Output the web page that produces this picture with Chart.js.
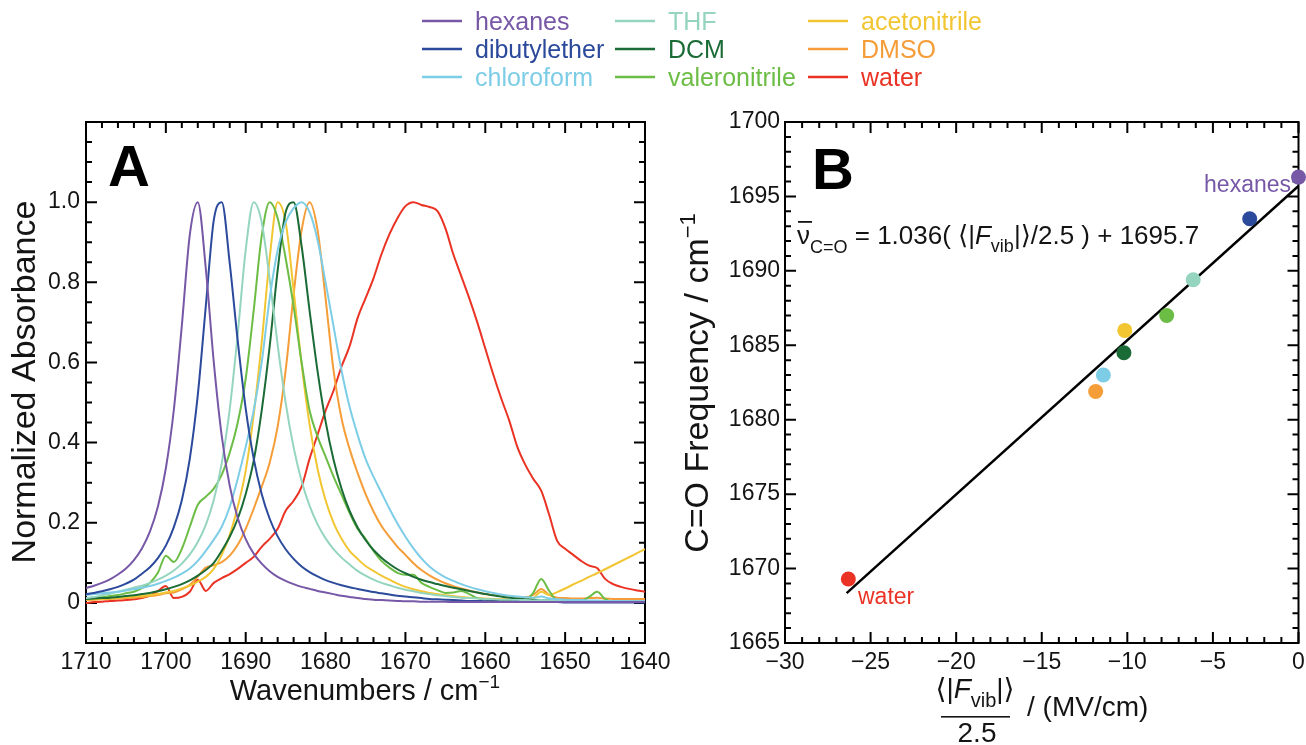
<!DOCTYPE html>
<html>
<head>
<meta charset="utf-8">
<title>C=O band vs solvent</title>
<script src="https://cdn.jsdelivr.net/npm/chart.js@4.4.1/dist/chart.umd.min.js"></script>
<style>
  html, body { margin: 0; padding: 0; background: #fff; }
  #wrap { position: relative; width: 1306px; height: 745px; overflow: hidden; }
  #wrap canvas { position: absolute; left: 0; top: 0; }
</style>
</head>
<body>
<div id="wrap">
  <canvas id="panelA" width="1306" height="745"></canvas>
  <canvas id="panelB" width="1306" height="745"></canvas>
</div>
<script>
// ---- data ----
const solvents = ['hexanes', 'dibutylether', 'chloroform', 'THF', 'DCM', 'valeronitrile', 'acetonitrile', 'DMSO', 'water'];
const colors = ['#7758a7', '#2b4a9c', '#7dcde6', '#95d5c0', '#1a6b35', '#6cbd45', '#f2c632', '#f59d38', '#ea3324'];

// panel A: normalized absorbance, wavenumber grid 1710 -> 1640
const wavenumbers = [1710, 1709, 1708, 1707, 1706, 1705, 1704, 1703, 1702, 1701,
  1700, 1699, 1698, 1697, 1696, 1695, 1694, 1693, 1692, 1691,
  1690, 1689, 1688, 1687, 1686, 1685, 1684, 1683, 1682, 1681,
  1680, 1679, 1678, 1677, 1676, 1675, 1674, 1673, 1672, 1671,
  1670, 1669, 1668, 1667, 1666, 1665, 1664, 1663, 1662, 1661,
  1660, 1659, 1658, 1657, 1656, 1655, 1654, 1653, 1652, 1651,
  1650, 1649, 1648, 1647, 1646, 1645, 1644, 1643, 1642, 1641, 1640];

const hexanes = [.037, .043, .050, .059, .071, .086, .107, .136, .178, .240,
  .336, .482, .692, .919, 1.00, .835, .601, .416, .292, .212,
  .159, .123, .098, .079, .065, .055, .047, .040, .035, .030,
  .026, .022, .018, .015, .012, .010, .008, .007, .006, .005,
  .004, .004, .003, .003, .003, .003, .002, .002, .002, .002,
  .002, .002, .002, .002, .002, .002, .002, .002, .002, .002,
  .002, .002, .002, .002, .002, .002, .002, .002, .002, .002, .002];

const dibutylether = [.022, .025, .029, .034, .040, .048, .058, .073, .089, .112,
  .143, .189, .256, .360, .519, .740, .955, 1.00, .847, .654,
  .485, .360, .272, .210, .166, .134, .110, .091, .077, .066,
  .057, .050, .044, .039, .035, .031, .027, .024, .021, .018,
  .016, .014, .012, .010, .009, .008, .007, .006, .005, .005,
  .004, .004, .003, .003, .003, .002, .002, .002, .002, .002,
  .001, .001, .001, .001, .001, .001, .001, .001, .001, .001, .001];

const chloroform = [.020, .022, .024, .026, .028, .031, .034, .038, .042, .048,
  .055, .063, .073, .086, .105, .130, .158, .190, .240, .310,
  .390, .480, .600, .760, .880, .950, .985, 1.00, .975, .905,
  .800, .690, .580, .490, .420, .360, .315, .275, .235, .198,
  .165, .136, .111, .091, .076, .064, .055, .047, .040, .034,
  .029, .025, .021, .018, .016, .014, .013, .016, .011, .009,
  .008, .007, .007, .006, .006, .005, .005, .005, .004, .004, .004];

const thf = [.012, .015, .019, .023, .028, .033, .038, .043, .050, .058,
  .068, .081, .098, .121, .152, .195, .257, .349, .484, .671,
  .881, 1.00, .950, .808, .644, .500, .388, .304, .242, .196,
  .161, .134, .113, .096, .080, .068, .058, .050, .044, .038,
  .033, .029, .025, .022, .019, .017, .015, .013, .012, .011,
  .010, .009, .008, .008, .007, .007, .006, .007, .006, .005,
  .005, .005, .004, .004, .004, .004, .004, .004, .004, .004, .004];

const dcm = [.010, .011, .012, .013, .015, .017, .019, .022, .025, .029,
  .034, .040, .047, .056, .068, .082, .100, .130, .165, .210,
  .272, .355, .480, .640, .830, .975, 1.00, .890, .729, .578,
  .453, .357, .285, .230, .189, .157, .132, .113, .097, .084,
  .074, .065, .058, .052, .047, .042, .038, .034, .030, .026,
  .022, .019, .016, .013, .011, .009, .008, .007, .006, .006,
  .005, .005, .004, .004, .004, .004, .003, .003, .003, .003, .003];

const valeronitrile = [.010, .012, .014, .017, .020, .024, .028, .037, .050, .075,
  .118, .102, .135, .190, .245, .265, .285, .320, .375, .450,
  .560, .730, .915, 1.00, .960, .860, .740, .600, .480, .415,
  .365, .315, .270, .225, .185, .160, .130, .105, .088, .075,
  .070, .070, .050, .040, .032, .025, .026, .030, .022, .012,
  .008, .007, .006, .006, .006, .007, .025, .060, .030, .006,
  .004, .004, .005, .015, .028, .010, .003, .003, .003, .003, .003];

const acetonitrile = [.008, .009, .010, .011, .012, .014, .016, .018, .020, .022,
  .026, .030, .036, .043, .053, .065, .085, .120, .170, .240,
  .330, .470, .650, .860, 1.00, .950, .780, .596, .445, .334,
  .256, .200, .160, .130, .110, .092, .080, .068, .058, .048,
  .040, .034, .029, .025, .022, .019, .017, .015, .013, .012,
  .011, .010, .009, .009, .008, .008, .012, .028, .020, .027,
  .036, .046, .055, .065, .074, .084, .094, .104, .114, .124, .134];

const dmso = [.007, .008, .009, .010, .011, .012, .013, .015, .017, .020,
  .024, .026, .034, .045, .066, .088, .094, .102, .118, .145,
  .185, .235, .290, .350, .440, .580, .770, .930, 1.00, .930,
  .760, .580, .460, .385, .325, .272, .228, .192, .165, .140,
  .120, .099, .082, .069, .058, .049, .042, .036, .031, .026,
  .022, .019, .017, .015, .014, .014, .020, .035, .020, .013,
  .012, .011, .011, .012, .013, .011, .010, .010, .010, .010, .010];

const water = [.000, .002, .003, .005, .006, .007, .009, .012, .018, .030,
  .042, .012, .015, .028, .058, .030, .050, .062, .072, .085,
  .100, .115, .140, .160, .185, .230, .255, .290, .360, .420,
  .480, .530, .590, .640, .710, .760, .810, .870, .920, .960,
  .990, 1.00, .993, .988, .978, .935, .870, .815, .760, .700,
  .635, .570, .510, .455, .390, .345, .310, .280, .220, .155,
  .135, .120, .105, .093, .087, .060, .047, .040, .035, .031, .028];

const spectra = [hexanes, dibutylether, chloroform, thf, dcm, valeronitrile, acetonitrile, dmso, water];

const xTicksA = [1710, 1700, 1690, 1680, 1670, 1660, 1650, 1640];
const yTicksA = [0, 0.2, 0.4, 0.6, 0.8, 1.0];
const yLabelsA = ['0', '0.2', '0.4', '0.6', '0.8', '1.0'];

// panel B: <|F_vib|>/2.5 (MV/cm) vs C=O frequency, same solvent order
const fieldB = [0, -2.85, -11.4, -6.15, -10.2, -7.7, -10.15, -11.85, -26.3];
const freqB = [1696.3, 1693.5, 1683.0, 1689.4, 1684.5, 1687.0, 1686.0, 1681.9, 1669.3];
const fitX = [-26.4, 0];
const fitY = [1668.35, 1695.7];

const xTicksB = [-30, -25, -20, -15, -10, -5, 0];
const xLabelsB = ['\u221230', '\u221225', '\u221220', '\u221215', '\u221210', '\u22125', '0'];
const yTicksB = [1665, 1670, 1675, 1680, 1685, 1690, 1695, 1700];

// ---- look ----
const FONT = "'Liberation Sans', Arial, Helvetica, 'DejaVu Sans', sans-serif";
const INK = '#141414';
const f = (size, extra) => (extra ? extra + ' ' : '') + size + 'px ' + FONT;

// box with inward ticks on all four sides
const frame = {
  id: 'frame',
  beforeDatasetsDraw(chart, args, o) {
    const { ctx, chartArea: a } = chart;
    const { x, y } = chart.scales;
    ctx.save();
    ctx.strokeStyle = '#000';
    ctx.lineWidth = 2;
    const marks = (scale, step, major, horiz) => {
      const n = Math.round((scale.max - scale.min) / step);
      for (let i = 0; i <= n; i++) {
        const v = scale.min + i * step;
        const big = Math.abs(v / major - Math.round(v / major)) < 1e-6;
        const len = big ? 11 : 6;
        const p = scale.getPixelForValue(v);
        ctx.beginPath();
        if (horiz) {
          ctx.moveTo(p, a.bottom); ctx.lineTo(p, a.bottom - len);
          ctx.moveTo(p, a.top); ctx.lineTo(p, a.top + len);
        } else {
          ctx.moveTo(a.left, p); ctx.lineTo(a.left + len, p);
          ctx.moveTo(a.right, p); ctx.lineTo(a.right - len, p);
        }
        ctx.stroke();
      }
    };
    marks(x, o.xStep, o.xMajor, true);
    marks(y, o.yStep, o.yMajor, false);
    ctx.strokeRect(a.left, a.top, a.right - a.left, a.bottom - a.top);
    ctx.restore();
  }
};

// text made of runs (for sub/superscripts)
function runs(ctx, parts, x, y, align) {
  let w = 0;
  parts.forEach(p => { ctx.font = p.font; w += ctx.measureText(p.t).width; });
  let cx = align === 'center' ? x - w / 2 : (align === 'right' ? x - w : x);
  ctx.textAlign = 'left';
  ctx.textBaseline = 'alphabetic';
  parts.forEach(p => {
    ctx.font = p.font;
    ctx.fillText(p.t, cx, y + (p.dy || 0));
    cx += ctx.measureText(p.t).width;
  });
  return w;
}

const textA = {
  id: 'textA',
  afterDraw(chart) {
    const ctx = chart.ctx;
    ctx.save();
    // legend, three columns
    const colX = [422, 615, 808];
    const rowY = [21, 49, 77];
    solvents.forEach((s, i) => {
      const lx = colX[Math.floor(i / 3)];
      const ly = rowY[i % 3];
      ctx.fillStyle = colors[i];
      ctx.fillRect(lx, ly - 1.25, 40, 2.5);
      ctx.font = f(25);
      ctx.textAlign = 'left';
      ctx.textBaseline = 'alphabetic';
      ctx.fillText(s, lx + 53, ly + 9);
    });
    ctx.fillStyle = '#000';
    ctx.font = f(58, 'bold');
    ctx.textAlign = 'left';
    ctx.fillText('A', 108, 186);
    ctx.fillStyle = INK;
    runs(ctx, [{ t: 'Wavenumbers / cm', font: f(29) }, { t: '\u22121', font: f(19), dy: -12 }], 365, 700, 'center');
    ctx.translate(35, 382);
    ctx.rotate(-Math.PI / 2);
    runs(ctx, [{ t: 'Normalized Absorbance', font: f(34) }], 0, 0, 'center');
    ctx.restore();
  }
};

const textB = {
  id: 'textB',
  afterDraw(chart) {
    const ctx = chart.ctx;
    ctx.save();
    ctx.fillStyle = '#000';
    ctx.font = f(58, 'bold');
    ctx.textAlign = 'left';
    ctx.fillText('B', 812, 189);

    // fit equation
    ctx.fillStyle = INK;
    ctx.font = f(26);
    const nuW = ctx.measureText('\u03bd').width;
    ctx.fillRect(798, 221, nuW + 1, 1.8);
    runs(ctx, [
      { t: '\u03bd', font: f(26) },
      { t: 'C=O', font: f(18), dy: 9 },
      { t: ' = 1.036( \u27e8|', font: f(26) },
      { t: 'F', font: f(26, 'italic') },
      { t: 'vib', font: f(18), dy: 8 },
      { t: '|\u27e9/2.5 ) + 1695.7', font: f(26) }
    ], 797, 244, 'left');

    ctx.font = f(23);
    ctx.fillStyle = colors[0];
    ctx.textAlign = 'right';
    ctx.fillText('hexanes', 1291, 192);
    ctx.fillStyle = colors[8];
    ctx.textAlign = 'left';
    ctx.fillText('water', 858, 604);

    // x title: <|F_vib|> over 2.5, then / (MV/cm)
    ctx.fillStyle = INK;
    runs(ctx, [
      { t: '\u27e8|', font: f(28) },
      { t: 'F', font: f(28, 'italic') },
      { t: 'vib', font: f(20), dy: 9 },
      { t: '|\u27e9', font: f(28) }
    ], 975, 698, 'center');
    ctx.fillRect(941, 716, 69, 1.6);
    runs(ctx, [{ t: '2.5', font: f(28) }], 977, 742, 'center');
    runs(ctx, [{ t: '/ (MV/cm)', font: f(28) }], 1027, 716, 'left');

    ctx.translate(708, 383);
    ctx.rotate(-Math.PI / 2);
    runs(ctx, [{ t: 'C=O Frequency / cm', font: f(34) }, { t: '\u22121', font: f(22), dy: -13 }], 0, 0, 'center');
    ctx.restore();
  }
};

const tickFont = { family: FONT, size: 23 };
const noGrid = { display: false, drawTicks: false };

new Chart(document.getElementById('panelA'), {
  type: 'line',
  data: {
    datasets: spectra.map((s, i) => ({
      label: solvents[i],
      data: wavenumbers.map((w, j) => ({ x: w, y: s[j] })),
      borderColor: colors[i],
      borderWidth: 2,
      pointRadius: 0,
      cubicInterpolationMode: 'monotone',
      fill: false
    }))
  },
  options: {
    responsive: false,
    animation: false,
    devicePixelRatio: 1,
    layout: { padding: { left: 0, top: 122, right: 661, bottom: 0 } },
    plugins: {
      legend: { display: false },
      tooltip: { enabled: false },
      frame: { xStep: 2, xMajor: 10, yStep: 0.05, yMajor: 0.2 }
    },
    scales: {
      x: {
        type: 'linear', reverse: true, min: 1640, max: 1710,
        grid: noGrid, border: { display: false },
        ticks: { font: tickFont, color: INK, padding: 6, maxRotation: 0, autoSkip: false, callback: v => String(v) },
        afterBuildTicks: s => { s.ticks = xTicksA.map(v => ({ value: v })); },
        afterFit: s => { s.height = 102; s.paddingLeft = 0; s.paddingRight = 0; }
      },
      y: {
        min: -0.1, max: 1.2,
        grid: noGrid, border: { display: false },
        ticks: { font: tickFont, color: INK, padding: 6, autoSkip: false, callback: (v, i) => yLabelsA[i] },
        afterBuildTicks: s => { s.ticks = yTicksA.map(v => ({ value: v })); },
        afterFit: s => { s.width = 86; s.paddingTop = 0; s.paddingBottom = 0; }
      }
    }
  },
  plugins: [frame, textA]
});

new Chart(document.getElementById('panelB'), {
  type: 'scatter',
  data: {
    datasets: [
      {
        label: 'solvents',
        data: fieldB.map((v, i) => ({ x: v, y: freqB[i] })),
        pointRadius: 7.5,
        pointBackgroundColor: colors,
        pointBorderColor: colors,
        pointBorderWidth: 0,
        clip: false
      },
      {
        type: 'line',
        label: 'fit',
        data: fitX.map((v, i) => ({ x: v, y: fitY[i] })),
        borderColor: '#000',
        borderWidth: 2.5,
        pointRadius: 0,
        showLine: true
      }
    ]
  },
  options: {
    responsive: false,
    animation: false,
    devicePixelRatio: 1,
    layout: { padding: { left: 660, top: 122, right: 6, bottom: 0 } },
    plugins: {
      legend: { display: false },
      tooltip: { enabled: false },
      frame: { xStep: 1, xMajor: 5, yStep: 1, yMajor: 5 }
    },
    scales: {
      x: {
        type: 'linear', min: -30, max: 0,
        grid: noGrid, border: { display: false },
        ticks: { font: tickFont, color: INK, padding: 6, maxRotation: 0, autoSkip: false, callback: (v, i) => xLabelsB[i] },
        afterBuildTicks: s => { s.ticks = xTicksB.map(v => ({ value: v })); },
        afterFit: s => { s.height = 102; s.paddingLeft = 0; s.paddingRight = 0; }
      },
      y: {
        type: 'linear', min: 1665, max: 1700,
        grid: noGrid, border: { display: false },
        ticks: { font: tickFont, color: INK, padding: 5, autoSkip: false, callback: (v, i) => String(yTicksB[i]) },
        afterBuildTicks: s => { s.ticks = yTicksB.map(v => ({ value: v })); },
        afterFit: s => { s.width = 125; s.paddingTop = 0; s.paddingBottom = 0; }
      }
    }
  },
  plugins: [frame, textB]
});
</script>
</body>
</html>
